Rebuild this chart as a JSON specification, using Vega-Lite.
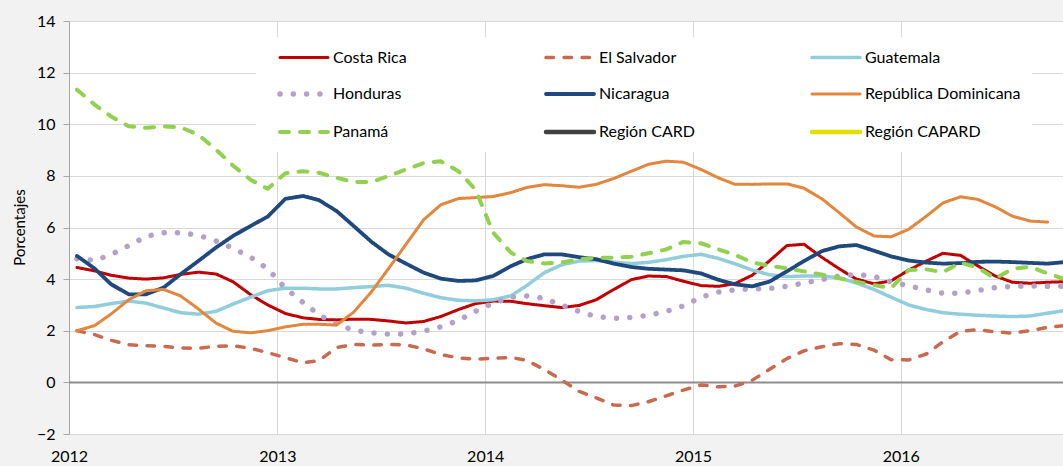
{
"$schema": "https://vega.github.io/schema/vega-lite/v6.json",
"width": 994, "height": 413,
"autosize": {"type": "none"},
"padding": {"left": 69, "top": 21, "right": 0, "bottom": 32},
"background": "#f2f2f2",
"config": {
 "view": {"fill": "white", "stroke": null},
 "font": "Lato",
 "legend": {"orient": "none", "direction": "horizontal", "legendX": 187, "legendY": 16, "columns": 3, "gridAlign": "all", "columnPadding": 44, "rowPadding": 16, "padding": 11, "fillColor": "white", "symbolType": "M1,0H10.6", "symbolSize": 100, "labelOffset": 50, "labelFont": "Lato", "labelFontSize": 16, "labelColor": "black", "labelLimit": 300}
},
"datasets": {
"d": [
{"d":"2012-01-15","s":"Costa Rica","v":4.45},{"d":"2012-02-15","s":"Costa Rica","v":4.32},{"d":"2012-03-15","s":"Costa Rica","v":4.15},{"d":"2012-04-15","s":"Costa Rica","v":4.04},{"d":"2012-05-15","s":"Costa Rica","v":4.0},{"d":"2012-06-15","s":"Costa Rica","v":4.05},{"d":"2012-07-15","s":"Costa Rica","v":4.18},{"d":"2012-08-15","s":"Costa Rica","v":4.27},{"d":"2012-09-15","s":"Costa Rica","v":4.2},{"d":"2012-10-15","s":"Costa Rica","v":3.9},{"d":"2012-11-15","s":"Costa Rica","v":3.4},{"d":"2012-12-15","s":"Costa Rica","v":3.0},
{"d":"2013-01-15","s":"Costa Rica","v":2.67},{"d":"2013-02-15","s":"Costa Rica","v":2.5},{"d":"2013-03-15","s":"Costa Rica","v":2.44},{"d":"2013-04-15","s":"Costa Rica","v":2.42},{"d":"2013-05-15","s":"Costa Rica","v":2.45},{"d":"2013-06-15","s":"Costa Rica","v":2.44},{"d":"2013-07-15","s":"Costa Rica","v":2.38},{"d":"2013-08-15","s":"Costa Rica","v":2.3},{"d":"2013-09-15","s":"Costa Rica","v":2.36},{"d":"2013-10-15","s":"Costa Rica","v":2.55},{"d":"2013-11-15","s":"Costa Rica","v":2.82},{"d":"2013-12-15","s":"Costa Rica","v":3.05},
{"d":"2014-01-15","s":"Costa Rica","v":3.15},{"d":"2014-02-15","s":"Costa Rica","v":3.14},{"d":"2014-03-15","s":"Costa Rica","v":3.05},{"d":"2014-04-15","s":"Costa Rica","v":2.97},{"d":"2014-05-15","s":"Costa Rica","v":2.9},{"d":"2014-06-15","s":"Costa Rica","v":2.98},{"d":"2014-07-15","s":"Costa Rica","v":3.2},{"d":"2014-08-15","s":"Costa Rica","v":3.6},{"d":"2014-09-15","s":"Costa Rica","v":3.98},{"d":"2014-10-15","s":"Costa Rica","v":4.12},{"d":"2014-11-15","s":"Costa Rica","v":4.1},{"d":"2014-12-15","s":"Costa Rica","v":3.92},
{"d":"2015-01-15","s":"Costa Rica","v":3.75},{"d":"2015-02-15","s":"Costa Rica","v":3.72},{"d":"2015-03-15","s":"Costa Rica","v":3.82},{"d":"2015-04-15","s":"Costa Rica","v":4.15},{"d":"2015-05-15","s":"Costa Rica","v":4.7},{"d":"2015-06-15","s":"Costa Rica","v":5.3},{"d":"2015-07-15","s":"Costa Rica","v":5.35},{"d":"2015-08-15","s":"Costa Rica","v":4.85},{"d":"2015-09-15","s":"Costa Rica","v":4.4},{"d":"2015-10-15","s":"Costa Rica","v":4.0},{"d":"2015-11-15","s":"Costa Rica","v":3.82},{"d":"2015-12-15","s":"Costa Rica","v":3.93},
{"d":"2016-01-15","s":"Costa Rica","v":4.35},{"d":"2016-02-15","s":"Costa Rica","v":4.7},{"d":"2016-03-15","s":"Costa Rica","v":5.0},{"d":"2016-04-15","s":"Costa Rica","v":4.92},{"d":"2016-05-15","s":"Costa Rica","v":4.52},{"d":"2016-06-15","s":"Costa Rica","v":4.12},{"d":"2016-07-15","s":"Costa Rica","v":3.88},{"d":"2016-08-15","s":"Costa Rica","v":3.84},{"d":"2016-09-15","s":"Costa Rica","v":3.88},{"d":"2016-10-15","s":"Costa Rica","v":3.9},

{"d":"2012-01-15","s":"El Salvador","v":2.0},{"d":"2012-02-15","s":"El Salvador","v":1.85},{"d":"2012-03-15","s":"El Salvador","v":1.63},{"d":"2012-04-15","s":"El Salvador","v":1.46},{"d":"2012-05-15","s":"El Salvador","v":1.42},{"d":"2012-06-15","s":"El Salvador","v":1.4},{"d":"2012-07-15","s":"El Salvador","v":1.33},{"d":"2012-08-15","s":"El Salvador","v":1.32},{"d":"2012-09-15","s":"El Salvador","v":1.4},{"d":"2012-10-15","s":"El Salvador","v":1.42},{"d":"2012-11-15","s":"El Salvador","v":1.32},{"d":"2012-12-15","s":"El Salvador","v":1.15},
{"d":"2013-01-15","s":"El Salvador","v":0.96},{"d":"2013-02-15","s":"El Salvador","v":0.76},{"d":"2013-03-15","s":"El Salvador","v":0.84},{"d":"2013-04-15","s":"El Salvador","v":1.35},{"d":"2013-05-15","s":"El Salvador","v":1.47},{"d":"2013-06-15","s":"El Salvador","v":1.44},{"d":"2013-07-15","s":"El Salvador","v":1.47},{"d":"2013-08-15","s":"El Salvador","v":1.45},{"d":"2013-09-15","s":"El Salvador","v":1.3},{"d":"2013-10-15","s":"El Salvador","v":1.08},{"d":"2013-11-15","s":"El Salvador","v":0.95},{"d":"2013-12-15","s":"El Salvador","v":0.9},
{"d":"2014-01-15","s":"El Salvador","v":0.93},{"d":"2014-02-15","s":"El Salvador","v":0.97},{"d":"2014-03-15","s":"El Salvador","v":0.85},{"d":"2014-04-15","s":"El Salvador","v":0.5},{"d":"2014-05-15","s":"El Salvador","v":0.1},{"d":"2014-06-15","s":"El Salvador","v":-0.35},{"d":"2014-07-15","s":"El Salvador","v":-0.6},{"d":"2014-08-15","s":"El Salvador","v":-0.88},{"d":"2014-09-15","s":"El Salvador","v":-0.9},{"d":"2014-10-15","s":"El Salvador","v":-0.75},{"d":"2014-11-15","s":"El Salvador","v":-0.52},{"d":"2014-12-15","s":"El Salvador","v":-0.3},
{"d":"2015-01-15","s":"El Salvador","v":-0.1},{"d":"2015-02-15","s":"El Salvador","v":-0.17},{"d":"2015-03-15","s":"El Salvador","v":-0.15},{"d":"2015-04-15","s":"El Salvador","v":0.08},{"d":"2015-05-15","s":"El Salvador","v":0.5},{"d":"2015-06-15","s":"El Salvador","v":0.92},{"d":"2015-07-15","s":"El Salvador","v":1.22},{"d":"2015-08-15","s":"El Salvador","v":1.38},{"d":"2015-09-15","s":"El Salvador","v":1.5},{"d":"2015-10-15","s":"El Salvador","v":1.47},{"d":"2015-11-15","s":"El Salvador","v":1.25},{"d":"2015-12-15","s":"El Salvador","v":0.88},
{"d":"2016-01-15","s":"El Salvador","v":0.87},{"d":"2016-02-15","s":"El Salvador","v":1.1},{"d":"2016-03-15","s":"El Salvador","v":1.57},{"d":"2016-04-15","s":"El Salvador","v":1.98},{"d":"2016-05-15","s":"El Salvador","v":2.04},{"d":"2016-06-15","s":"El Salvador","v":1.96},{"d":"2016-07-15","s":"El Salvador","v":1.91},{"d":"2016-08-15","s":"El Salvador","v":2.0},{"d":"2016-09-15","s":"El Salvador","v":2.13},{"d":"2016-10-15","s":"El Salvador","v":2.2},

{"d":"2012-01-15","s":"Guatemala","v":2.9},{"d":"2012-02-15","s":"Guatemala","v":2.94},{"d":"2012-03-15","s":"Guatemala","v":3.05},{"d":"2012-04-15","s":"Guatemala","v":3.15},{"d":"2012-05-15","s":"Guatemala","v":3.07},{"d":"2012-06-15","s":"Guatemala","v":2.88},{"d":"2012-07-15","s":"Guatemala","v":2.7},{"d":"2012-08-15","s":"Guatemala","v":2.64},{"d":"2012-09-15","s":"Guatemala","v":2.75},{"d":"2012-10-15","s":"Guatemala","v":3.03},{"d":"2012-11-15","s":"Guatemala","v":3.3},{"d":"2012-12-15","s":"Guatemala","v":3.55},
{"d":"2013-01-15","s":"Guatemala","v":3.65},{"d":"2013-02-15","s":"Guatemala","v":3.65},{"d":"2013-03-15","s":"Guatemala","v":3.62},{"d":"2013-04-15","s":"Guatemala","v":3.62},{"d":"2013-05-15","s":"Guatemala","v":3.67},{"d":"2013-06-15","s":"Guatemala","v":3.71},{"d":"2013-07-15","s":"Guatemala","v":3.76},{"d":"2013-08-15","s":"Guatemala","v":3.65},{"d":"2013-09-15","s":"Guatemala","v":3.45},{"d":"2013-10-15","s":"Guatemala","v":3.28},{"d":"2013-11-15","s":"Guatemala","v":3.18},{"d":"2013-12-15","s":"Guatemala","v":3.16},
{"d":"2014-01-15","s":"Guatemala","v":3.2},{"d":"2014-02-15","s":"Guatemala","v":3.35},{"d":"2014-03-15","s":"Guatemala","v":3.75},{"d":"2014-04-15","s":"Guatemala","v":4.25},{"d":"2014-05-15","s":"Guatemala","v":4.55},{"d":"2014-06-15","s":"Guatemala","v":4.7},{"d":"2014-07-15","s":"Guatemala","v":4.72},{"d":"2014-08-15","s":"Guatemala","v":4.66},{"d":"2014-09-15","s":"Guatemala","v":4.6},{"d":"2014-10-15","s":"Guatemala","v":4.65},{"d":"2014-11-15","s":"Guatemala","v":4.75},{"d":"2014-12-15","s":"Guatemala","v":4.88},
{"d":"2015-01-15","s":"Guatemala","v":4.96},{"d":"2015-02-15","s":"Guatemala","v":4.8},{"d":"2015-03-15","s":"Guatemala","v":4.6},{"d":"2015-04-15","s":"Guatemala","v":4.35},{"d":"2015-05-15","s":"Guatemala","v":4.17},{"d":"2015-06-15","s":"Guatemala","v":4.1},{"d":"2015-07-15","s":"Guatemala","v":4.12},{"d":"2015-08-15","s":"Guatemala","v":4.12},{"d":"2015-09-15","s":"Guatemala","v":4.05},{"d":"2015-10-15","s":"Guatemala","v":3.85},{"d":"2015-11-15","s":"Guatemala","v":3.6},{"d":"2015-12-15","s":"Guatemala","v":3.3},
{"d":"2016-01-15","s":"Guatemala","v":3.0},{"d":"2016-02-15","s":"Guatemala","v":2.82},{"d":"2016-03-15","s":"Guatemala","v":2.7},{"d":"2016-04-15","s":"Guatemala","v":2.64},{"d":"2016-05-15","s":"Guatemala","v":2.6},{"d":"2016-06-15","s":"Guatemala","v":2.57},{"d":"2016-07-15","s":"Guatemala","v":2.55},{"d":"2016-08-15","s":"Guatemala","v":2.57},{"d":"2016-09-15","s":"Guatemala","v":2.68},{"d":"2016-10-15","s":"Guatemala","v":2.78},

{"d":"2012-01-15","s":"Honduras","v":4.79},{"d":"2012-02-15","s":"Honduras","v":4.72},{"d":"2012-03-15","s":"Honduras","v":4.95},{"d":"2012-04-15","s":"Honduras","v":5.3},{"d":"2012-05-15","s":"Honduras","v":5.65},{"d":"2012-06-15","s":"Honduras","v":5.8},{"d":"2012-07-15","s":"Honduras","v":5.8},{"d":"2012-08-15","s":"Honduras","v":5.7},{"d":"2012-09-15","s":"Honduras","v":5.48},{"d":"2012-10-15","s":"Honduras","v":5.2},{"d":"2012-11-15","s":"Honduras","v":4.85},{"d":"2012-12-15","s":"Honduras","v":4.4},
{"d":"2013-01-15","s":"Honduras","v":3.65},{"d":"2013-02-15","s":"Honduras","v":3.1},{"d":"2013-03-15","s":"Honduras","v":2.62},{"d":"2013-04-15","s":"Honduras","v":2.25},{"d":"2013-05-15","s":"Honduras","v":2.02},{"d":"2013-06-15","s":"Honduras","v":1.92},{"d":"2013-07-15","s":"Honduras","v":1.87},{"d":"2013-08-15","s":"Honduras","v":1.88},{"d":"2013-09-15","s":"Honduras","v":1.98},{"d":"2013-10-15","s":"Honduras","v":2.15},{"d":"2013-11-15","s":"Honduras","v":2.4},{"d":"2013-12-15","s":"Honduras","v":2.75},
{"d":"2014-01-15","s":"Honduras","v":3.07},{"d":"2014-02-15","s":"Honduras","v":3.3},{"d":"2014-03-15","s":"Honduras","v":3.35},{"d":"2014-04-15","s":"Honduras","v":3.25},{"d":"2014-05-15","s":"Honduras","v":3.0},{"d":"2014-06-15","s":"Honduras","v":2.75},{"d":"2014-07-15","s":"Honduras","v":2.55},{"d":"2014-08-15","s":"Honduras","v":2.48},{"d":"2014-09-15","s":"Honduras","v":2.52},{"d":"2014-10-15","s":"Honduras","v":2.6},{"d":"2014-11-15","s":"Honduras","v":2.75},{"d":"2014-12-15","s":"Honduras","v":2.96},
{"d":"2015-01-15","s":"Honduras","v":3.3},{"d":"2015-02-15","s":"Honduras","v":3.5},{"d":"2015-03-15","s":"Honduras","v":3.58},{"d":"2015-04-15","s":"Honduras","v":3.63},{"d":"2015-05-15","s":"Honduras","v":3.63},{"d":"2015-06-15","s":"Honduras","v":3.72},{"d":"2015-07-15","s":"Honduras","v":3.85},{"d":"2015-08-15","s":"Honduras","v":3.98},{"d":"2015-09-15","s":"Honduras","v":4.12},{"d":"2015-10-15","s":"Honduras","v":4.18},{"d":"2015-11-15","s":"Honduras","v":4.1},{"d":"2015-12-15","s":"Honduras","v":3.9},
{"d":"2016-01-15","s":"Honduras","v":3.74},{"d":"2016-02-15","s":"Honduras","v":3.58},{"d":"2016-03-15","s":"Honduras","v":3.45},{"d":"2016-04-15","s":"Honduras","v":3.45},{"d":"2016-05-15","s":"Honduras","v":3.56},{"d":"2016-06-15","s":"Honduras","v":3.67},{"d":"2016-07-15","s":"Honduras","v":3.72},{"d":"2016-08-15","s":"Honduras","v":3.74},{"d":"2016-09-15","s":"Honduras","v":3.72},{"d":"2016-10-15","s":"Honduras","v":3.72},

{"d":"2012-01-15","s":"Nicaragua","v":4.9},{"d":"2012-02-15","s":"Nicaragua","v":4.41},{"d":"2012-03-15","s":"Nicaragua","v":3.8},{"d":"2012-04-15","s":"Nicaragua","v":3.41},{"d":"2012-05-15","s":"Nicaragua","v":3.41},{"d":"2012-06-15","s":"Nicaragua","v":3.67},{"d":"2012-07-15","s":"Nicaragua","v":4.19},{"d":"2012-08-15","s":"Nicaragua","v":4.7},{"d":"2012-09-15","s":"Nicaragua","v":5.22},{"d":"2012-10-15","s":"Nicaragua","v":5.67},{"d":"2012-11-15","s":"Nicaragua","v":6.06},{"d":"2012-12-15","s":"Nicaragua","v":6.42},
{"d":"2013-01-15","s":"Nicaragua","v":7.11},{"d":"2013-02-15","s":"Nicaragua","v":7.22},{"d":"2013-03-15","s":"Nicaragua","v":7.06},{"d":"2013-04-15","s":"Nicaragua","v":6.64},{"d":"2013-05-15","s":"Nicaragua","v":6.06},{"d":"2013-06-15","s":"Nicaragua","v":5.45},{"d":"2013-07-15","s":"Nicaragua","v":4.96},{"d":"2013-08-15","s":"Nicaragua","v":4.6},{"d":"2013-09-15","s":"Nicaragua","v":4.25},{"d":"2013-10-15","s":"Nicaragua","v":4.02},{"d":"2013-11-15","s":"Nicaragua","v":3.93},{"d":"2013-12-15","s":"Nicaragua","v":3.95},
{"d":"2014-01-15","s":"Nicaragua","v":4.12},{"d":"2014-02-15","s":"Nicaragua","v":4.5},{"d":"2014-03-15","s":"Nicaragua","v":4.77},{"d":"2014-04-15","s":"Nicaragua","v":4.96},{"d":"2014-05-15","s":"Nicaragua","v":4.96},{"d":"2014-06-15","s":"Nicaragua","v":4.85},{"d":"2014-07-15","s":"Nicaragua","v":4.77},{"d":"2014-08-15","s":"Nicaragua","v":4.6},{"d":"2014-09-15","s":"Nicaragua","v":4.47},{"d":"2014-10-15","s":"Nicaragua","v":4.4},{"d":"2014-11-15","s":"Nicaragua","v":4.37},{"d":"2014-12-15","s":"Nicaragua","v":4.34},
{"d":"2015-01-15","s":"Nicaragua","v":4.22},{"d":"2015-02-15","s":"Nicaragua","v":3.97},{"d":"2015-03-15","s":"Nicaragua","v":3.8},{"d":"2015-04-15","s":"Nicaragua","v":3.72},{"d":"2015-05-15","s":"Nicaragua","v":3.9},{"d":"2015-06-15","s":"Nicaragua","v":4.3},{"d":"2015-07-15","s":"Nicaragua","v":4.7},{"d":"2015-08-15","s":"Nicaragua","v":5.08},{"d":"2015-09-15","s":"Nicaragua","v":5.27},{"d":"2015-10-15","s":"Nicaragua","v":5.32},{"d":"2015-11-15","s":"Nicaragua","v":5.1},{"d":"2015-12-15","s":"Nicaragua","v":4.88},
{"d":"2016-01-15","s":"Nicaragua","v":4.72},{"d":"2016-02-15","s":"Nicaragua","v":4.64},{"d":"2016-03-15","s":"Nicaragua","v":4.6},{"d":"2016-04-15","s":"Nicaragua","v":4.62},{"d":"2016-05-15","s":"Nicaragua","v":4.67},{"d":"2016-06-15","s":"Nicaragua","v":4.68},{"d":"2016-07-15","s":"Nicaragua","v":4.66},{"d":"2016-08-15","s":"Nicaragua","v":4.63},{"d":"2016-09-15","s":"Nicaragua","v":4.6},{"d":"2016-10-15","s":"Nicaragua","v":4.66},

{"d":"2012-01-15","s":"República Dominicana","v":2.0},{"d":"2012-02-15","s":"República Dominicana","v":2.2},{"d":"2012-03-15","s":"República Dominicana","v":2.65},{"d":"2012-04-15","s":"República Dominicana","v":3.2},{"d":"2012-05-15","s":"República Dominicana","v":3.55},{"d":"2012-06-15","s":"República Dominicana","v":3.6},{"d":"2012-07-15","s":"República Dominicana","v":3.35},{"d":"2012-08-15","s":"República Dominicana","v":2.85},{"d":"2012-09-15","s":"República Dominicana","v":2.3},{"d":"2012-10-15","s":"República Dominicana","v":1.98},{"d":"2012-11-15","s":"República Dominicana","v":1.92},{"d":"2012-12-15","s":"República Dominicana","v":2.0},
{"d":"2013-01-15","s":"República Dominicana","v":2.15},{"d":"2013-02-15","s":"República Dominicana","v":2.25},{"d":"2013-03-15","s":"República Dominicana","v":2.25},{"d":"2013-04-15","s":"República Dominicana","v":2.22},{"d":"2013-05-15","s":"República Dominicana","v":2.72},{"d":"2013-06-15","s":"República Dominicana","v":3.5},{"d":"2013-07-15","s":"República Dominicana","v":4.4},{"d":"2013-08-15","s":"República Dominicana","v":5.35},{"d":"2013-09-15","s":"República Dominicana","v":6.3},{"d":"2013-10-15","s":"República Dominicana","v":6.88},{"d":"2013-11-15","s":"República Dominicana","v":7.12},{"d":"2013-12-15","s":"República Dominicana","v":7.16},
{"d":"2014-01-15","s":"República Dominicana","v":7.2},{"d":"2014-02-15","s":"República Dominicana","v":7.35},{"d":"2014-03-15","s":"República Dominicana","v":7.55},{"d":"2014-04-15","s":"República Dominicana","v":7.66},{"d":"2014-05-15","s":"República Dominicana","v":7.62},{"d":"2014-06-15","s":"República Dominicana","v":7.56},{"d":"2014-07-15","s":"República Dominicana","v":7.67},{"d":"2014-08-15","s":"República Dominicana","v":7.9},{"d":"2014-09-15","s":"República Dominicana","v":8.18},{"d":"2014-10-15","s":"República Dominicana","v":8.45},{"d":"2014-11-15","s":"República Dominicana","v":8.57},{"d":"2014-12-15","s":"República Dominicana","v":8.53},
{"d":"2015-01-15","s":"República Dominicana","v":8.25},{"d":"2015-02-15","s":"República Dominicana","v":7.92},{"d":"2015-03-15","s":"República Dominicana","v":7.68},{"d":"2015-04-15","s":"República Dominicana","v":7.67},{"d":"2015-05-15","s":"República Dominicana","v":7.69},{"d":"2015-06-15","s":"República Dominicana","v":7.69},{"d":"2015-07-15","s":"República Dominicana","v":7.52},{"d":"2015-08-15","s":"República Dominicana","v":7.12},{"d":"2015-09-15","s":"República Dominicana","v":6.57},{"d":"2015-10-15","s":"República Dominicana","v":6.02},{"d":"2015-11-15","s":"República Dominicana","v":5.67},{"d":"2015-12-15","s":"República Dominicana","v":5.64},
{"d":"2016-01-15","s":"República Dominicana","v":5.93},{"d":"2016-02-15","s":"República Dominicana","v":6.44},{"d":"2016-03-15","s":"República Dominicana","v":6.95},{"d":"2016-04-15","s":"República Dominicana","v":7.19},{"d":"2016-05-15","s":"República Dominicana","v":7.09},{"d":"2016-06-15","s":"República Dominicana","v":6.8},{"d":"2016-07-15","s":"República Dominicana","v":6.44},{"d":"2016-08-15","s":"República Dominicana","v":6.25},{"d":"2016-09-15","s":"República Dominicana","v":6.21},

{"d":"2012-01-15","s":"Panamá","v":11.34},{"d":"2012-02-15","s":"Panamá","v":10.76},{"d":"2012-03-15","s":"Panamá","v":10.3},{"d":"2012-04-15","s":"Panamá","v":9.92},{"d":"2012-05-15","s":"Panamá","v":9.86},{"d":"2012-06-15","s":"Panamá","v":9.92},{"d":"2012-07-15","s":"Panamá","v":9.88},{"d":"2012-08-15","s":"Panamá","v":9.6},{"d":"2012-09-15","s":"Panamá","v":9.02},{"d":"2012-10-15","s":"Panamá","v":8.4},{"d":"2012-11-15","s":"Panamá","v":7.85},{"d":"2012-12-15","s":"Panamá","v":7.5},
{"d":"2013-01-15","s":"Panamá","v":8.1},{"d":"2013-02-15","s":"Panamá","v":8.18},{"d":"2013-03-15","s":"Panamá","v":8.12},{"d":"2013-04-15","s":"Panamá","v":7.93},{"d":"2013-05-15","s":"Panamá","v":7.76},{"d":"2013-06-15","s":"Panamá","v":7.76},{"d":"2013-07-15","s":"Panamá","v":7.99},{"d":"2013-08-15","s":"Panamá","v":8.25},{"d":"2013-09-15","s":"Panamá","v":8.5},{"d":"2013-10-15","s":"Panamá","v":8.57},{"d":"2013-11-15","s":"Panamá","v":8.18},{"d":"2013-12-15","s":"Panamá","v":7.47},
{"d":"2014-01-15","s":"Panamá","v":5.8},{"d":"2014-02-15","s":"Panamá","v":5.03},{"d":"2014-03-15","s":"Panamá","v":4.7},{"d":"2014-04-15","s":"Panamá","v":4.61},{"d":"2014-05-15","s":"Panamá","v":4.64},{"d":"2014-06-15","s":"Panamá","v":4.77},{"d":"2014-07-15","s":"Panamá","v":4.83},{"d":"2014-08-15","s":"Panamá","v":4.83},{"d":"2014-09-15","s":"Panamá","v":4.87},{"d":"2014-10-15","s":"Panamá","v":5.0},{"d":"2014-11-15","s":"Panamá","v":5.15},{"d":"2014-12-15","s":"Panamá","v":5.44},
{"d":"2015-01-15","s":"Panamá","v":5.39},{"d":"2015-02-15","s":"Panamá","v":5.15},{"d":"2015-03-15","s":"Panamá","v":4.95},{"d":"2015-04-15","s":"Panamá","v":4.65},{"d":"2015-05-15","s":"Panamá","v":4.52},{"d":"2015-06-15","s":"Panamá","v":4.42},{"d":"2015-07-15","s":"Panamá","v":4.3},{"d":"2015-08-15","s":"Panamá","v":4.18},{"d":"2015-09-15","s":"Panamá","v":4.03},{"d":"2015-10-15","s":"Panamá","v":3.9},{"d":"2015-11-15","s":"Panamá","v":3.77},{"d":"2015-12-15","s":"Panamá","v":3.65},
{"d":"2016-01-15","s":"Panamá","v":4.35},{"d":"2016-02-15","s":"Panamá","v":4.38},{"d":"2016-03-15","s":"Panamá","v":4.27},{"d":"2016-04-15","s":"Panamá","v":4.64},{"d":"2016-05-15","s":"Panamá","v":4.45},{"d":"2016-06-15","s":"Panamá","v":4.02},{"d":"2016-07-15","s":"Panamá","v":4.4},{"d":"2016-08-15","s":"Panamá","v":4.48},{"d":"2016-09-15","s":"Panamá","v":4.22},{"d":"2016-10-15","s":"Panamá","v":4.0}
]
},
"layer": [
 {
  "data": {"values": [{}]},
  "mark": {"type": "rule", "color": "#8c8c8c", "strokeWidth": 2},
  "encoding": {"y": {"datum": 0, "type": "quantitative", "axis": {"title": "Porcentajes"}}}
 },
 {
  "data": {"name": "d"},
  "mark": {"type": "line", "strokeCap": "round", "strokeJoin": "round", "clip": true},
  "encoding": {
   "x": {"field": "d", "type": "temporal",
     "scale": {"type": "utc", "domain": ["2012-01-01", "2016-10-12"]},
     "axis": {"format": "%Y", "tickCount": {"interval": "year", "step": 1}, "grid": true, "gridColor": "#d9d9d9", "gridWidth": 1, "domainColor": "#d9d9d9", "ticks": false, "labelFont": "Lato", "labelFontSize": 16, "labelColor": "black", "labelAlign": "center", "labelBaseline": "top", "labelDx": 8, "labelPadding": 14, "labelFlush": false, "labelOverlap": false, "title": null}},
   "y": {"field": "v", "type": "quantitative",
     "scale": {"domain": [-2, 14], "nice": false, "zero": false},
     "axis": {"values": [-2, 0, 2, 4, 6, 8, 10, 12, 14], "grid": true, "gridColor": "#d9d9d9", "gridWidth": 1, "domainColor": "#a6a6a6", "tickColor": "#a6a6a6", "tickSize": 6, "labelFont": "Lato", "labelFontSize": 16, "labelColor": "black", "labelPadding": 8, "title": "Porcentajes", "titleFont": "Lato", "titleFontSize": 15, "titleFontWeight": "normal", "titleColor": "black", "titleX": -50, "titleY": 206, "titleAngle": -90, "titleAlign": "center", "titleBaseline": "middle"}},
   "color": {"field": "s", "type": "nominal",
     "legend": {"title": null, "encode": {"symbols": {"update": {"strokeCap": {"value": "round"}}}}},
     "scale": {"domain": ["Costa Rica", "El Salvador", "Guatemala", "Honduras", "Nicaragua", "República Dominicana", "Panamá", "Región CARD", "Región CAPARD"],
               "range": ["#C00000", "#C96A50", "#92CDDC", "#B3A2C7", "#1F497D", "#E2873D", "#92D050", "#404040", "#E2E000"]}},
   "strokeDash": {"field": "s", "type": "nominal",
     "legend": {"title": null, "encode": {"symbols": {"update": {"strokeCap": {"value": "round"}}}}},
     "scale": {"domain": ["Costa Rica", "El Salvador", "Guatemala", "Honduras", "Nicaragua", "República Dominicana", "Panamá", "Región CARD", "Región CAPARD"],
               "range": [[1, 0], [7.5, 10.5], [1, 0], [0.01, 13.3], [1, 0], [1, 0], [9, 11], [1, 0], [1, 0]]}},
   "strokeWidth": {"field": "s", "type": "nominal",
     "legend": {"title": null, "encode": {"symbols": {"update": {"strokeCap": {"value": "round"}}}}},
     "scale": {"type": "ordinal", "domain": ["Costa Rica", "El Salvador", "Guatemala", "Honduras", "Nicaragua", "República Dominicana", "Panamá", "Región CARD", "Región CAPARD"],
               "range": [3, 3.5, 3.5, 5.5, 3.8, 3, 4, 4.5, 4.5]}}
  }
 }
]
}
